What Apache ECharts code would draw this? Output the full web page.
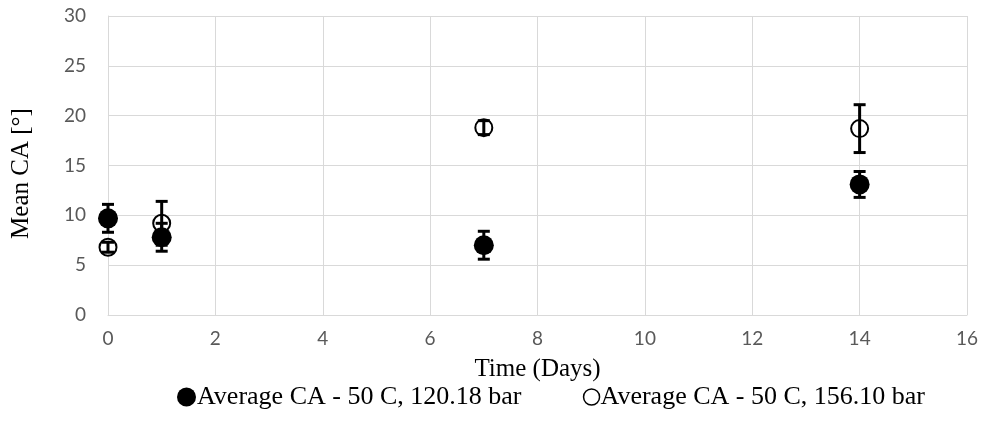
<!DOCTYPE html>
<html>
<head>
<meta charset="utf-8">
<script src="https://cdn.jsdelivr.net/npm/echarts@6/dist/echarts.min.js"></script>
<style>
  html, body { margin: 0; padding: 0; background: #fff; }
  #chart { width: 987px; height: 430px; }
</style>
</head>
<body>
<div id="chart"></div>
<script>
// Time points (days) and mean contact angle with standard deviation
const days = [0, 1, 7, 14];
const mean120 = [9.7, 7.8, 7.0, 13.1];
const err120 = [1.4, 1.4, 1.4, 1.3];
const mean156 = [6.8, 9.2, 18.8, 18.7];
const err156 = [0.5, 2.2, 0.7, 2.4];
const xTicks = [0, 2, 4, 6, 8, 10, 12, 14, 16];
const yTicks = [0, 5, 10, 15, 20, 25, 30];

const name120 = 'Average CA - 50 C, 120.18 bar';
const name156 = 'Average CA - 50 C, 156.10 bar';

function points(means) {
  return days.map((d, i) => [d, means[i]]);
}
function errData(means, errs) {
  return days.map((d, i) => [d, means[i] - errs[i], means[i] + errs[i]]);
}

// Vertical error bar with flat caps
function renderErr(params, api) {
  const x = api.value(0);
  const lo = api.coord([x, api.value(1)]);
  const hi = api.coord([x, api.value(2)]);
  const half = 6;
  const style = { stroke: '#000', lineWidth: 3, fill: null };
  return {
    type: 'group',
    children: [
      { type: 'line', shape: { x1: lo[0], y1: lo[1], x2: hi[0], y2: hi[1] }, style },
      { type: 'line', shape: { x1: lo[0] - half, y1: lo[1], x2: lo[0] + half, y2: lo[1] }, style },
      { type: 'line', shape: { x1: hi[0] - half, y1: hi[1], x2: hi[0] + half, y2: hi[1] }, style }
    ]
  };
}

const chart = echarts.init(document.getElementById('chart'), null, { renderer: 'canvas' });
const tickFont = { fontFamily: 'Lato', fontSize: 19, color: '#595959' };
const serif = 'Liberation Serif';
const legendText = { fontFamily: serif, fontSize: 26, color: '#000', padding: [0, 0, 0, -4] };

chart.setOption({
  animation: false,
  backgroundColor: '#fff',
  grid: { left: 108, right: 20, top: 16, bottom: 115, containLabel: false },
  xAxis: {
    type: 'value', min: xTicks[0], max: xTicks[xTicks.length - 1], interval: 2,
    name: 'Time (Days)', nameLocation: 'middle', nameGap: 42,
    nameTextStyle: { fontFamily: serif, fontSize: 25, color: '#000' },
    axisLine: { show: true, lineStyle: { color: '#d9d9d9', width: 1 } },
    axisTick: { show: false },
    axisLabel: Object.assign({ margin: 14 }, tickFont),
    splitLine: { show: true, lineStyle: { color: '#d9d9d9', width: 1 } }
  },
  yAxis: {
    type: 'value', min: yTicks[0], max: yTicks[yTicks.length - 1], interval: 5,
    name: 'Mean CA [°]', nameLocation: 'middle', nameGap: 74,
    nameTextStyle: { fontFamily: serif, fontSize: 25, color: '#000', padding: [0, 16, 0, 0] },
    axisLine: { show: true, lineStyle: { color: '#d9d9d9', width: 1 } },
    axisTick: { show: false },
    axisLabel: Object.assign({ margin: 22 }, tickFont),
    splitLine: { show: true, lineStyle: { color: '#d9d9d9', width: 1 } }
  },
  legend: [
    {
      bottom: 15, left: 172, itemWidth: 19, itemHeight: 19, selectedMode: false,
      textStyle: legendText,
      data: [{ name: name120, icon: 'circle', itemStyle: { color: '#000', borderWidth: 0, opacity: 1 } }]
    },
    {
      bottom: 15, right: 57, itemWidth: 16, itemHeight: 16, selectedMode: false,
      textStyle: legendText,
      data: [{ name: name156, icon: 'circle', itemStyle: { color: '#fff', borderColor: '#000', borderWidth: 1.5, opacity: 1 } }]
    }
  ],
  series: [
    {
      name: name120, type: 'scatter', data: points(mean120), symbol: 'circle', symbolSize: 20,
      itemStyle: { color: '#000', opacity: 1 }, z: 3
    },
    {
      name: name156, type: 'scatter', data: points(mean156), symbol: 'circle', symbolSize: 17,
      itemStyle: { color: 'rgba(255,255,255,0)', borderColor: '#000', borderWidth: 2, opacity: 1 }, z: 4
    },
    { type: 'custom', renderItem: renderErr, data: errData(mean120, err120), z: 5, silent: true },
    { type: 'custom', renderItem: renderErr, data: errData(mean156, err156), z: 5, silent: true }
  ]
});
</script>
</body>
</html>
